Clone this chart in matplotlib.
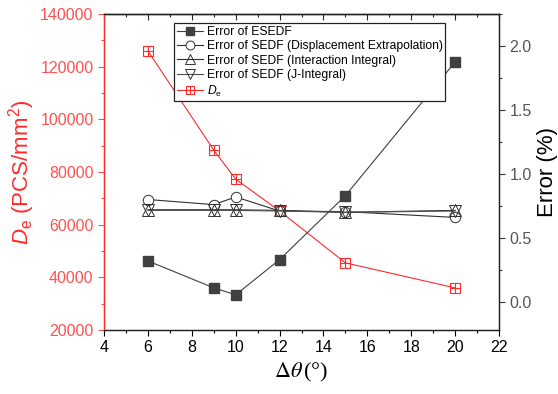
import matplotlib.pyplot as plt
from matplotlib.ticker import MultipleLocator
from matplotlib.legend_handler import HandlerTuple

plt.rcParams['font.family'] = ['Liberation Sans', 'DejaVu Sans']
plt.rcParams['mathtext.fontset'] = 'custom'
plt.rcParams['mathtext.rm'] = 'Liberation Sans'
plt.rcParams['mathtext.it'] = 'Liberation Sans:italic'

# angle step (deg)
dtheta = [6, 9, 10, 12, 15, 20]
# element density, PCS/mm^2
de = [126000, 88300, 77300, 65200, 45500, 36000]
# errors (%)
err_esedf = [0.32, 0.11, 0.055, 0.33, 0.83, 1.875]
err_disp = [0.80, 0.76, 0.82, 0.71, 0.705, 0.66]
err_inter = [0.72, 0.72, 0.72, 0.715, 0.70, 0.715]
err_jint = [0.715, 0.715, 0.715, 0.71, 0.70, 0.71]

red = '#ff2a2a'
dark = '#404040'

fig = plt.figure(figsize=(5.58, 3.94), dpi=100)
ax = fig.add_axes([0.1864, 0.1624, 0.7079, 0.8021])
ax2 = ax.twinx()

# D_e on the left axis: square with a cross inside
l_de, = ax.plot(dtheta, de, color=red, lw=0.8, marker='s', ms=7, mfc='none',
                mec=red, mew=0.8, zorder=3)
l_plus, = ax.plot(dtheta, de, ls='none', marker='+', ms=7, mec=red, mew=0.8, zorder=3)

# errors on the right axis
l1, = ax2.plot(dtheta, err_esedf, color=dark, lw=0.8, marker='s', ms=7.5,
               mfc=dark, mec=dark)
l2, = ax2.plot(dtheta, err_disp, color='#303030', lw=0.8, marker='o', ms=7.5,
               mfc='white', mec='#303030', mew=0.7)
l3, = ax2.plot(dtheta, err_inter, color='#303030', lw=0.8, marker='^', ms=8,
               mfc='none', mec='#303030', mew=0.7)
l4, = ax2.plot(dtheta, err_jint, color='#505050', lw=0.8, marker='v', ms=8,
               mfc='none', mec='#303030', mew=0.7)

ax.set_xlim(4, 22)
ax.set_ylim(20000, 140000)
ax2.set_ylim(-0.22, 2.25)

ax.xaxis.set_major_locator(MultipleLocator(2))
ax.xaxis.set_minor_locator(MultipleLocator(1))
ax.yaxis.set_major_locator(MultipleLocator(20000))
ax.yaxis.set_minor_locator(MultipleLocator(10000))
ax2.yaxis.set_major_locator(MultipleLocator(0.5))
ax2.yaxis.set_minor_locator(MultipleLocator(0.25))
ax2.yaxis.set_major_formatter(plt.FormatStrFormatter('%.1f'))

ax.tick_params(axis='x', which='both', direction='out', labelsize=11.5, width=0.8)
ax.tick_params(axis='x', which='major', length=4)
ax.tick_params(axis='x', which='minor', length=2.5)

# mirrored ticks on top, pointing inwards
top = ax.secondary_xaxis('top')
top.xaxis.set_major_locator(MultipleLocator(2))
top.xaxis.set_minor_locator(MultipleLocator(1))
top.tick_params(which='both', direction='in', labeltop=False, width=0.8, colors='#222222')
top.tick_params(which='major', length=4)
top.tick_params(which='minor', length=2.5)
top.spines['top'].set_linewidth(0.9)

ax.tick_params(axis='y', which='both', colors='#ff5050', labelsize=11.5, width=0.8)
ax.tick_params(axis='y', which='major', length=4)
ax.tick_params(axis='y', which='minor', length=2.5)
ax2.tick_params(axis='y', which='both', colors='#333333', labelcolor='#555555',
                labelsize=11.5, width=0.8)
ax2.tick_params(axis='y', which='major', length=4)
ax2.tick_params(axis='y', which='minor', length=2.5)

for a in (ax, ax2):
    for s in a.spines.values():
        s.set_linewidth(0.9)
        s.set_color('#222222')
ax2.spines['left'].set_color(red)
ax.spines['left'].set_color(red)

ax.set_ylabel(r'$D_{\mathrm{e}}$ (PCS/mm$^{2}$)', color=red, fontsize=16, labelpad=2)
ax2.set_ylabel('Error (%)', fontsize=16, labelpad=4)
ax.set_xlabel(r'$\Delta\theta\,$(°)', fontsize=16, family='Liberation Serif',
              math_fontfamily='stix', labelpad=4)

leg = ax2.legend([l1, l2, l3, l4, (l_de, l_plus)],
                 ['Error of ESEDF', 'Error of SEDF (Displacement Extrapolation)',
                  'Error of SEDF (Interaction Integral)', 'Error of SEDF (J-Integral)',
                  r'$D_{\mathrm{e}}$'],
                 handler_map={tuple: HandlerTuple(ndivide=1, pad=0)},
                 loc='upper left', bbox_to_anchor=(0.178, 0.97), fontsize=8.7,
                 fancybox=False, edgecolor='#222222', framealpha=1, markerscale=0.85,
                 borderpad=0.2, labelspacing=0.2, handlelength=2.2,
                 handletextpad=0.3, borderaxespad=0)
leg.get_frame().set_linewidth(0.9)

fig.savefig('out.png', dpi=100)
